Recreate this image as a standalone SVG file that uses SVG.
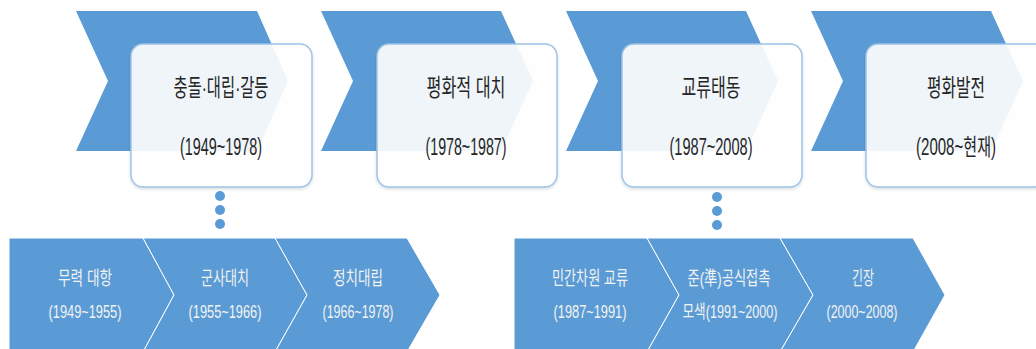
<svg xmlns="http://www.w3.org/2000/svg" width="1036" height="349" viewBox="0 0 1036 349">
<style>
.chev{fill:#5B9BD5}
.seg{fill:#5B9BD5;stroke:#FFFFFF;stroke-width:1}
.card{fill:#FFFFFF;fill-opacity:0.9;stroke:#9DC3E6;stroke-width:1.5}
.t{font-family:'Liberation Sans','Noto Sans CJK KR',sans-serif;text-anchor:middle}
.top{font-size:23px;fill:#262626}
.tt{font-size:24px}
.bot{font-size:18px;fill:#F2F2F2}
.bt{font-size:19px}
.dot{fill:#5B9BD5}
</style>
<defs>
<filter id="sh" x="-10%" y="-10%" width="120%" height="130%">
<feDropShadow dx="0" dy="1.5" stdDeviation="1.5" flood-color="#000" flood-opacity="0.15"/>
</filter>
</defs>
<g id="node-1">
<polygon class="chev" points="76,11 257,11 288,81 257,151 76,151 108,81"/>
<rect class="card" filter="url(#sh)" x="131" y="44" width="181" height="143" rx="12"/>
<text class="t top tt" x="221" y="96" textLength="95" lengthAdjust="spacingAndGlyphs">충돌·대립·갈등</text>
<text class="t top" x="221" y="155" textLength="82" lengthAdjust="spacingAndGlyphs">(1949~1978)</text>
</g>
<g id="node-2">
<polygon class="chev" points="321,11 501,11 533,81 501,151 321,151 353,81"/>
<rect class="card" filter="url(#sh)" x="377" y="44" width="180" height="143" rx="12"/>
<text class="t top tt" x="466" y="96" textLength="79" lengthAdjust="spacingAndGlyphs">평화적 대치</text>
<text class="t top" x="466" y="155" textLength="81" lengthAdjust="spacingAndGlyphs">(1978~1987)</text>
</g>
<g id="node-3">
<polygon class="chev" points="566,11 746,11 778,81 746,151 566,151 598,81"/>
<rect class="card" filter="url(#sh)" x="622" y="44" width="180" height="143" rx="12"/>
<text class="t top tt" x="711" y="96" textLength="59" lengthAdjust="spacingAndGlyphs">교류태동</text>
<text class="t top" x="711" y="155" textLength="83" lengthAdjust="spacingAndGlyphs">(1987~2008)</text>
</g>
<g id="node-4">
<polygon class="chev" points="811,11 991,11 1023,81 991,151 811,151 843,81"/>
<rect class="card" filter="url(#sh)" x="866" y="44" width="181" height="143" rx="12"/>
<text class="t top tt" x="956" y="96" textLength="58" lengthAdjust="spacingAndGlyphs">평화발전</text>
<text class="t top" x="956" y="155" textLength="80" lengthAdjust="spacingAndGlyphs">(2008~현재)</text>
</g>
<g id="connectors">
<circle class="dot" cx="220" cy="196" r="5"/>
<circle class="dot" cx="220" cy="210" r="5"/>
<circle class="dot" cx="220" cy="224" r="5"/>
<circle class="dot" cx="717" cy="197" r="5"/>
<circle class="dot" cx="717" cy="211" r="5"/>
<circle class="dot" cx="717" cy="225" r="5"/>
</g>
<g id="sub-1-1">
<polygon class="seg" points="9,238 143,238 174,295 143,352 9,352"/>
<text class="t bot bt" x="85" y="285" textLength="54" lengthAdjust="spacingAndGlyphs">무력 대항</text>
<text class="t bot" x="85" y="318" textLength="73" lengthAdjust="spacingAndGlyphs">(1949~1955)</text>
</g>
<g id="sub-1-2">
<polygon class="seg" points="143,238 275,238 307,295 275,352 143,352 174,295"/>
<text class="t bot bt" x="225" y="285" textLength="48" lengthAdjust="spacingAndGlyphs">군사대치</text>
<text class="t bot" x="225" y="318" textLength="73" lengthAdjust="spacingAndGlyphs">(1955~1966)</text>
</g>
<g id="sub-1-3">
<polygon class="seg" points="275,238 407,238 440,295 407,352 275,352 307,295"/>
<text class="t bot bt" x="358" y="285" textLength="50" lengthAdjust="spacingAndGlyphs">정치대립</text>
<text class="t bot" x="358" y="318" textLength="71" lengthAdjust="spacingAndGlyphs">(1966~1978)</text>
</g>
<g id="sub-3-1">
<polygon class="seg" points="514,238 647,238 679,295 647,352 514,352"/>
<text class="t bot bt" x="590" y="285" textLength="76" lengthAdjust="spacingAndGlyphs">민간차원 교류</text>
<text class="t bot" x="590" y="318" textLength="73" lengthAdjust="spacingAndGlyphs">(1987~1991)</text>
</g>
<g id="sub-3-2">
<polygon class="seg" points="647,238 780,238 813,295 780,352 647,352 679,295"/>
<text class="t bot bt" x="729" y="285" textLength="83" lengthAdjust="spacingAndGlyphs">준(準)공식접촉</text>
<text class="t bot" x="730" y="318" textLength="95" lengthAdjust="spacingAndGlyphs">모색(1991~2000)</text>
</g>
<g id="sub-3-3">
<polygon class="seg" points="780,238 913,238 945,295 913,352 780,352 813,295"/>
<text class="t bot bt" x="863" y="285" textLength="22" lengthAdjust="spacingAndGlyphs">긴장</text>
<text class="t bot" x="862" y="318" textLength="71" lengthAdjust="spacingAndGlyphs">(2000~2008)</text>
</g>
</svg>
